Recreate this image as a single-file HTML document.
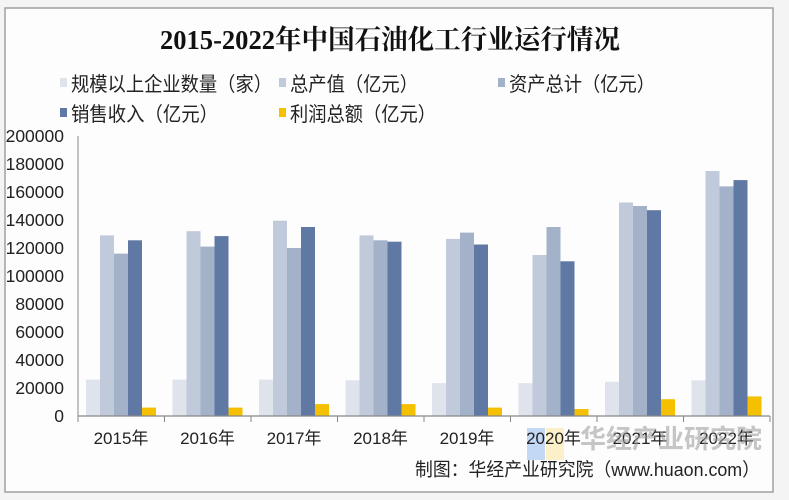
<!DOCTYPE html>
<html><head><meta charset="utf-8"><style>
html,body{margin:0;padding:0;background:#fff;}
svg{display:block;}
text{font-family:"Liberation Sans","Noto Sans CJK SC",sans-serif;}
</style></head><body>
<svg width="789" height="500" viewBox="0 0 789 500" xmlns="http://www.w3.org/2000/svg">
<rect x="0" y="0" width="789" height="500" fill="#f4f4f4"/>
<rect x="5" y="8" width="768" height="484" fill="#fdfdfe" stroke="#a0a0a0" stroke-width="1.5"/>
<text x="390" y="49" text-anchor="middle" font-size="27" font-weight="bold" fill="#111" style="font-family:'Liberation Serif','Noto Serif CJK SC',serif" textLength="460" lengthAdjust="spacingAndGlyphs">2015-2022年中国石油化工行业运行情况</text>
<g font-size="20" fill="#222">
<rect x="60" y="78" width="7" height="9" fill="#dfe3ec"/><text x="71" y="91" textLength="201" lengthAdjust="spacingAndGlyphs">规模以上企业数量（家）</text>
<rect x="279" y="78" width="7" height="9" fill="#c0cadb"/><text x="290" y="91" textLength="128" lengthAdjust="spacingAndGlyphs">总产值（亿元）</text>
<rect x="498" y="78" width="7" height="9" fill="#a3b1c9"/><text x="509" y="91" textLength="146" lengthAdjust="spacingAndGlyphs">资产总计（亿元）</text>
<rect x="60" y="108" width="7" height="9" fill="#5f79a4"/><text x="71" y="121" textLength="147" lengthAdjust="spacingAndGlyphs">销售收入（亿元）</text>
<rect x="279" y="108" width="7" height="9" fill="#f5c000"/><text x="290" y="121" textLength="146" lengthAdjust="spacingAndGlyphs">利润总额（亿元）</text>
</g>
<g font-size="17.5" fill="#222" text-anchor="end">
<text x="64" y="142">200000</text><text x="64" y="170">180000</text><text x="64" y="198">160000</text>
<text x="64" y="226">140000</text><text x="64" y="254">120000</text><text x="64" y="282">100000</text>
<text x="64" y="310">80000</text><text x="64" y="338">60000</text><text x="64" y="366">40000</text>
<text x="64" y="394">20000</text><text x="64" y="422">0</text>
</g>
<line x1="78" y1="136" x2="78" y2="416" stroke="#888" stroke-width="1"/>
<g>
<rect x="86" y="379.6" width="14" height="36.4" fill="#dfe3ec"/><rect x="100" y="235.4" width="14" height="180.6" fill="#c0cadb"/><rect x="114" y="253.6" width="14" height="162.4" fill="#a3b1c9"/><rect x="128" y="240.3" width="14" height="175.7" fill="#5f79a4"/><rect x="142" y="407.6" width="14" height="8.4" fill="#f5c000"/>
<rect x="172.5" y="379.6" width="14" height="36.4" fill="#dfe3ec"/><rect x="186.5" y="231.2" width="14" height="184.8" fill="#c0cadb"/><rect x="200.5" y="246.6" width="14" height="169.4" fill="#a3b1c9"/><rect x="214.5" y="236.1" width="14" height="179.9" fill="#5f79a4"/><rect x="228.5" y="407.6" width="14" height="8.4" fill="#f5c000"/>
<rect x="259" y="379.6" width="14" height="36.4" fill="#dfe3ec"/><rect x="273" y="220.7" width="14" height="195.3" fill="#c0cadb"/><rect x="287" y="248" width="14" height="168" fill="#a3b1c9"/><rect x="301" y="227" width="14" height="189" fill="#5f79a4"/><rect x="315" y="404.1" width="14" height="11.9" fill="#f5c000"/>
<rect x="345.5" y="380.3" width="14" height="35.7" fill="#dfe3ec"/><rect x="359.5" y="235.4" width="14" height="180.6" fill="#c0cadb"/><rect x="373.5" y="240.3" width="14" height="175.7" fill="#a3b1c9"/><rect x="387.5" y="241.7" width="14" height="174.3" fill="#5f79a4"/><rect x="401.5" y="404.1" width="14" height="11.9" fill="#f5c000"/>
<rect x="432" y="383.1" width="14" height="32.9" fill="#dfe3ec"/><rect x="446" y="238.9" width="14" height="177.1" fill="#c0cadb"/><rect x="460" y="232.6" width="14" height="183.4" fill="#a3b1c9"/><rect x="474" y="244.5" width="14" height="171.5" fill="#5f79a4"/><rect x="488" y="407.6" width="14" height="8.4" fill="#f5c000"/>
<rect x="518.5" y="383.1" width="14" height="32.9" fill="#dfe3ec"/><rect x="532.5" y="255" width="14" height="161" fill="#c0cadb"/><rect x="546.5" y="227" width="14" height="189" fill="#a3b1c9"/><rect x="560.5" y="261.3" width="14" height="154.7" fill="#5f79a4"/><rect x="574.5" y="409" width="14" height="7" fill="#f5c000"/>
<rect x="605" y="381.7" width="14" height="34.3" fill="#dfe3ec"/><rect x="619" y="202.5" width="14" height="213.5" fill="#c0cadb"/><rect x="633" y="206" width="14" height="210" fill="#a3b1c9"/><rect x="647" y="210.2" width="14" height="205.8" fill="#5f79a4"/><rect x="661" y="399.2" width="14" height="16.8" fill="#f5c000"/>
<rect x="691.5" y="380.3" width="14" height="35.7" fill="#dfe3ec"/><rect x="705.5" y="171" width="14" height="245" fill="#c0cadb"/><rect x="719.5" y="186.4" width="14" height="229.6" fill="#a3b1c9"/><rect x="733.5" y="180.1" width="14" height="235.9" fill="#5f79a4"/><rect x="747.5" y="396.4" width="14" height="19.6" fill="#f5c000"/>
</g>
<line x1="78" y1="416" x2="770" y2="416" stroke="#888" stroke-width="1.2"/>
<g stroke="#888"><line x1="78" y1="416" x2="78" y2="422"/><line x1="164.5" y1="416" x2="164.5" y2="422"/><line x1="251" y1="416" x2="251" y2="422"/><line x1="337.5" y1="416" x2="337.5" y2="422"/><line x1="424" y1="416" x2="424" y2="422"/><line x1="510.5" y1="416" x2="510.5" y2="422"/><line x1="597" y1="416" x2="597" y2="422"/><line x1="683.5" y1="416" x2="683.5" y2="422"/><line x1="770" y1="416" x2="770" y2="422"/></g>
<rect x="527" y="428" width="18" height="32" fill="#a9c8f0" opacity="0.7"/>
<rect x="546" y="428" width="18" height="32" fill="#fbeab0" opacity="0.7"/>
<g font-size="17" fill="#222" text-anchor="middle">
<text x="121" y="444">2015年</text><text x="207.5" y="444">2016年</text><text x="294" y="444">2017年</text><text x="380.5" y="444">2018年</text><text x="467" y="444">2019年</text><text x="553.5" y="444">2020年</text><text x="640" y="444">2021年</text><text x="726.5" y="444">2022年</text>
</g>
<text x="580" y="448" font-size="26" font-weight="bold" fill="#999" opacity="0.55">华经产业研究院</text>
<text x="415" y="476" font-size="18.5" fill="#222" textLength="345" lengthAdjust="spacingAndGlyphs">制图：华经产业研究院（www.huaon.com）</text>
</svg>
</body></html>
